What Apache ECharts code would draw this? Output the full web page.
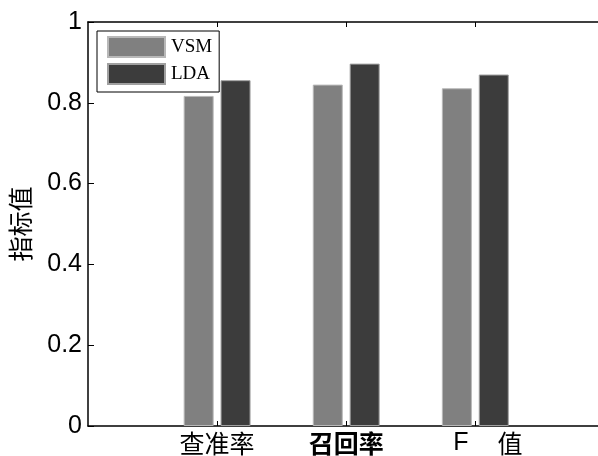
<!DOCTYPE html>
<html>
<head>
<meta charset="utf-8">
<script src="https://cdn.jsdelivr.net/npm/echarts@6/dist/echarts.min.js"></script>
<style>html,body{margin:0;padding:0;background:#fff;overflow:hidden;}#c{width:598px;height:456px;}</style>
</head>
<body>
<div id="c"></div>
<script>
var categories = ['查准率', '召回率', 'F 值'];
var categoryPos = [1, 2, 3];
var vsmValues = [0.817, 0.845, 0.836];
var ldaValues = [0.856, 0.897, 0.870];
var yTicks = [0, 0.2, 0.4, 0.6, 0.8, 1];

function pairs(vals) {
  return vals.map(function (v, i) { return [categoryPos[i], v]; });
}

var chart = echarts.init(document.getElementById('c'), null, {renderer: 'canvas'});
chart.setOption({
  animation: false,
  backgroundColor: '#fff',
  grid: {
    left: 88, top: 22, right: -40, bottom: 30,
    outerBoundsMode: 'none',
    containLabel: false,
    show: false
  },
  legend: {
    orient: 'vertical',
    left: 97, top: 31,
    padding: [5, 7, 7, 10],
    itemWidth: 57, itemHeight: 20, itemGap: 5,
    icon: 'rect',
    backgroundColor: '#fff',
    borderColor: '#000', borderWidth: 1,
    textStyle: {fontFamily: 'Liberation Serif', fontSize: 19, color: '#000', padding: [0, 0, 0, 1]},
    data: ['VSM', 'LDA']
  },
  xAxis: [{
    type: 'value', min: 0, max: 4.26,
    axisLine: {show: true, lineStyle: {color: '#000', width: 1.5}},
    axisTick: {show: true, inside: true, length: 5, customValues: categoryPos, lineStyle: {color: '#000'}},
    splitLine: {show: false},
    axisLabel: {
      customValues: categoryPos,
      margin: 5,
      color: '#000',
      formatter: function (v) {
        var idx = Math.round(v) - 1;
        if (idx === 0) return '{a|' + categories[0] + '}';
        if (idx === 1) return '{b|' + categories[1] + '}';
        if (idx === 2) { var p = categories[2].split(' '); return '{f|' + p[0] + '}{g|' + p[1] + '}'; }
        return '';
      },
      rich: {
        a: {fontFamily: 'Noto Sans CJK SC', fontSize: 25, color: '#000'},
        b: {fontFamily: 'Noto Sans CJK SC', fontSize: 25, fontWeight: 'bold', color: '#000'},
        f: {fontFamily: 'Liberation Sans', fontSize: 25, color: '#000', padding: [0, 29, 0, 25]},
        g: {fontFamily: 'Noto Sans CJK SC', fontSize: 25, color: '#000'}
      }
    }
  }, {
    type: 'value', min: 0, max: 4.26, position: 'top',
    axisLine: {show: true, lineStyle: {color: '#000', width: 1.5}},
    axisTick: {show: true, inside: true, length: 5, customValues: categoryPos, lineStyle: {color: '#000'}},
    axisLabel: {show: false},
    splitLine: {show: false}
  }],
  yAxis: {
    type: 'value', min: 0, max: 1, interval: 0.2,
    name: '指标值',
    nameLocation: 'middle',
    nameGap: 55,
    nameRotate: 90,
    nameTextStyle: {fontFamily: 'Noto Sans CJK SC', fontSize: 25, color: '#000'},
    axisLine: {show: true, lineStyle: {color: '#000', width: 1.5}},
    axisTick: {show: true, inside: true, length: 6, lineStyle: {color: '#000'}},
    splitLine: {show: false},
    axisLabel: {
      margin: 6, color: '#000', fontFamily: 'Liberation Sans', fontSize: 25,
      formatter: function (v) {
        var t = yTicks.filter(function (k) { return Math.abs(k - v) < 1e-9; });
        return t.length ? String(t[0]) : '';
      }
    }
  },
  series: [{
    name: 'VSM', type: 'bar', xAxisIndex: 0,
    data: pairs(vsmValues),
    barWidth: 30, barGap: '23%',
    itemStyle: {color: '#808080', borderColor: '#b8b8b8', borderWidth: 1}
  }, {
    name: 'LDA', type: 'bar', xAxisIndex: 0,
    data: pairs(ldaValues),
    barWidth: 30, barGap: '23%',
    itemStyle: {color: '#3c3c3c', borderColor: '#a0a0a0', borderWidth: 1}
  }]
});
</script>
</body>
</html>
